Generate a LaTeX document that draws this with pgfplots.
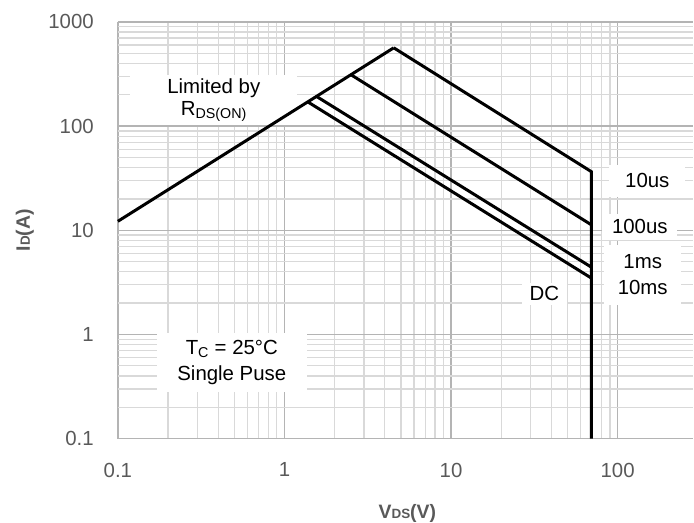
\documentclass[border=0pt]{standalone}
\usepackage{fontspec}
\setmainfont{Liberation Sans}
\usepackage{pgfplots}
\pgfplotsset{compat=1.18}
\definecolor{tickgray}{HTML}{595959}
\definecolor{majgrid}{HTML}{B4B4B4}
\definecolor{mingrid}{HTML}{D9D9D9}
\newcommand{\lab}{\fontsize{20.5}{26}\selectfont}
\begin{document}
\begin{tikzpicture}
\begin{axis}[
  name=ax,
  scale only axis,
  width=576bp, height=417bp,
  xmode=log, ymode=log,
  xmin=0.1, xmax=285, ymin=0.1, ymax=1000,
  axis line style={draw=none},
  major tick length=0pt, minor tick length=0pt,
  grid=both,
  major grid style={majgrid, line width=1.3bp},
  minor grid style={mingrid, line width=1.3bp},
  xtick={0.1,1,10,100}, xticklabels={0.1,1,10,100},
  ytick={0.1,1,10,100,1000}, yticklabels={0.1,1,10,100,1000},
  /pgf/number format/assume math mode=true,
  xticklabel style={font=\lab, text=tickgray, anchor=north, inner sep=0pt, yshift=-24bp},
  yticklabel style={font=\lab, text=tickgray, anchor=east, inner sep=0pt, xshift=-24bp},
  xlabel={\textbf{V{\fontsize{13.5}{14}\selectfont DS}(V)}},
  ylabel={\textbf{I{\fontsize{13.5}{14}\selectfont D}(A)}},
  xlabel style={font=\fontsize{19.5}{22}\selectfont, text=tickgray, at={(axis description cs:0.503,0)}, anchor=base, inner sep=0pt, yshift=-80bp},
  ylabel style={font=\fontsize{19.5}{22}\selectfont, text=tickgray, at={(axis description cs:-0.1615,0.5)}, anchor=center, inner sep=0pt},
  no markers,
  every axis plot post/.append style={black, line width=3bp, line join=miter},
  clip=false,
]
\node[fill=white, inner sep=0pt, minimum width=167bp, minimum height=50bp, align=center, font=\lab]
  at (axis description cs:0.1667,0.813) {Limited by\\[-4bp]R\textsubscript{DS(ON)}};
\node[fill=white, inner sep=0pt, minimum width=150bp, minimum height=59bp, align=center, font=\lab]
  at (axis description cs:0.198,0.1835) {T\textsubscript{C} = 25°C\\Single Puse};
\node[fill=white, inner sep=0pt, minimum width=76bp, minimum height=32bp, align=center, font=\lab]
  at (axis description cs:0.92,0.619) {10us};
\node[fill=white, inner sep=0pt, minimum width=75bp, minimum height=26bp, align=center, font=\lab]
  at (axis description cs:0.907,0.508) {100us};
\node[fill=white, inner sep=0pt, minimum width=77bp, minimum height=60bp, align=center, font=\lab]
  at (axis description cs:0.912,0.393) {1ms\\10ms};
\node[fill=white, inner sep=0pt, minimum width=45bp, minimum height=22bp, align=center, font=\lab]
  at (axis description cs:0.741,0.348) {DC};

% limited by RDS(on)
\addplot coordinates {(0.1,12.2) (4.53,565)};
% 10us
\addplot coordinates {(4.53,565) (69.5,36.6) (69.5,0.1)};
% 100us
\addplot coordinates {(2.52,310) (69.5,11.3)};
% 1ms
\addplot coordinates {(1.556,193) (69.5,4.43)};
% DC / 10ms
\addplot coordinates {(1.38,171) (69.5,3.48)};
\end{axis}
\path (ax.south west) ++(-118bp,-84bp);
\path (ax.north east) ++(0bp,22bp);
\end{tikzpicture}
\end{document}
